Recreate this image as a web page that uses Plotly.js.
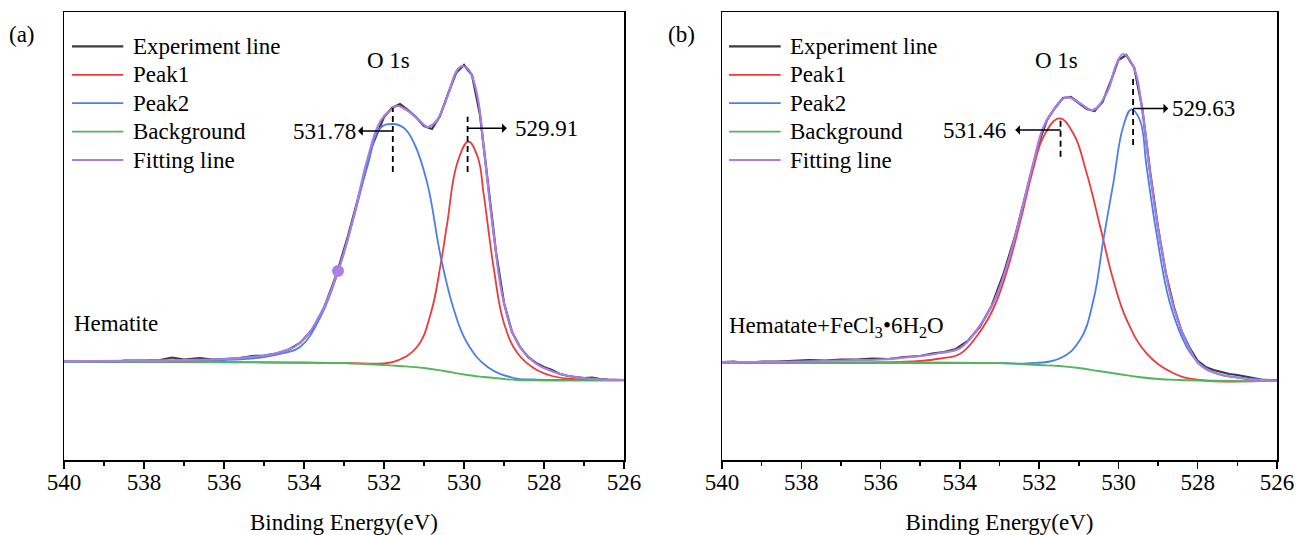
<!DOCTYPE html>
<html>
<head>
<meta charset="utf-8">
<script src="https://cdn.plot.ly/plotly-3.0.1.min.js"></script>
<style>html,body{margin:0;padding:0;background:#fff;}#chart{width:1296px;height:535px;}</style>
</head>
<body>
<div id="chart"></div>
<script>
// ---------------- DATA (binding energy in eV, intensity in a.u.) ----------------
const seriesNames = ["Experiment line", "Peak1", "Peak2", "Background", "Fitting line"];
const tickValues = [540, 538, 536, 534, 532, 530, 528, 526];

// Panel (a) Hematite
const expA_E = [540, 539.5, 539, 538.7, 538.5, 538, 537.6, 537.3, 537, 536.6, 536.3, 536, 535.6, 535.3, 535, 534.7, 534.4, 534.1, 533.8, 533.5, 533.2, 532.9, 532.6, 532.3, 532.0, 531.8, 531.6, 531.4, 531.2, 531.0, 530.8, 530.6, 530.4, 530.2, 530.0, 529.8, 529.6, 529.4, 529.2, 529.0, 528.8, 528.6, 528.4, 528.2, 528.0, 527.8, 527.6, 527.4, 527.2, 527.0, 526.8, 526.6, 526.4, 526.2, 526.0];
const expA_I = [99, 99, 98.5, 98, 99.5, 99.5, 100, 102.5, 100.5, 102, 100.5, 101, 102, 104, 104.5, 106.5, 110, 117, 130, 152, 184, 224, 268, 314, 343, 352, 356, 350, 343, 334, 331, 344, 366, 387, 395, 385, 345, 277, 208, 157, 128, 113, 103, 97, 93, 90, 86, 84, 83, 82, 82.5, 81, 80.5, 80, 80];

const fitA_E = [540, 539, 538, 537, 536, 535.5, 535, 534.5, 534.1, 533.6, 533.15, 532.76, 532.42, 532.09, 531.82, 531.67, 531.5, 531.33, 531.1, 530.92, 530.8, 530.67, 530.42, 530.17, 530.04, 529.9, 529.83, 529.66, 529.5, 529.25, 529.0, 528.66, 528.25, 528.0, 527.5, 527.0, 526.5, 526.0];
const fitA_I = [99, 99, 99.5, 100, 101, 102.5, 104.5, 109, 117, 145, 189, 243, 300, 339, 350.5, 354, 351.5, 347, 339, 333, 335, 340, 363, 390, 394, 391, 387, 363, 310, 223, 157, 117, 98, 92, 85, 82, 80.5, 80];

const peak1A_E = [540, 537, 535, 533, 532.0, 531.67, 531.17, 530.83, 530.58, 530.42, 530.17, 529.89, 529.66, 529.5, 529.25, 529.0, 528.66, 528.25, 527.8, 527.3, 526.5, 526.0];
const peak1A_I = [98.5, 98, 97.5, 97, 96.7, 99.3, 113.3, 146.7, 196.7, 236.7, 296.7, 318.3, 303.3, 263.3, 190, 136.7, 106.7, 91.7, 84, 81, 80, 80];

const peak2A_E = [540, 537, 536, 535.5, 535, 534.5, 534.09, 533.59, 533.15, 532.76, 532.42, 532.09, 531.78, 531.5, 531.25, 530.92, 530.58, 530.25, 529.92, 529.41, 528.75, 528.3, 527.5, 526.0];
const peak2A_I = [98.5, 99, 100, 101, 103, 107, 113.3, 143, 188, 242, 293, 332, 336, 332, 317, 277, 203, 150, 117, 93, 82, 80.5, 80, 80];

const bgA_E = [540, 536, 534, 533, 532.5, 532, 531.6, 531, 530.5, 529.92, 529.5, 529, 528.66, 528, 526];
const bgA_I = [98.5, 98, 97.5, 97, 96, 95, 94, 92, 89, 85, 83, 81, 80, 79.5, 79.5];

const markA_E = [533.15];
const markA_I = [189];

// Panel (b) Hematate + FeCl3·6H2O
const expB_E = [540, 539.7, 539.4, 539, 538.6, 538.2, 537.8, 537.4, 537, 536.6, 536.2, 535.8, 535.4, 535, 534.7, 534.4, 534.1, 533.8, 533.5, 533.2, 532.9, 532.6, 532.3, 532.0, 531.8, 531.6, 531.4, 531.2, 531.0, 530.8, 530.6, 530.4, 530.2, 530.0, 529.8, 529.6, 529.4, 529.2, 529.0, 528.8, 528.6, 528.4, 528.2, 528.0, 527.8, 527.6, 527.4, 527.2, 527.0, 526.8, 526.6, 526.4, 526.2, 526.0];
const expB_I = [98, 98.5, 97, 98.5, 98.5, 99.5, 100, 99.5, 100.5, 100.5, 101.5, 101, 103, 104, 106.5, 108, 111, 119, 133, 154, 186, 225, 273, 318, 340, 352, 362, 363, 357, 351, 349, 358, 378, 400, 405, 392, 352, 288, 232, 186, 153, 128, 112, 99, 93, 90, 88, 86, 85, 83.5, 82, 80.5, 80, 80];

const fitB_E = [540, 539, 538, 537, 536, 535.5, 535, 534.5, 534.0, 533.57, 533.16, 532.82, 532.48, 532.15, 531.89, 531.64, 531.32, 530.97, 530.65, 530.3, 530.04, 529.88, 529.62, 529.41, 529.2, 528.95, 528.61, 528.19, 527.94, 527.52, 526.68, 526.0];
const fitB_I = [98, 98, 98.5, 99.5, 100.5, 102, 104, 107, 111.7, 130, 156.7, 193.3, 243.3, 296.7, 333.3, 350, 362.7, 356.7, 350, 366.7, 396.7, 406, 393.3, 353.3, 286.7, 220, 153.3, 110, 95, 86.7, 80.7, 79.5];

const peak1B_E = [540, 536, 535, 534.5, 534.0, 533.57, 533.16, 532.82, 532.48, 532.15, 531.89, 531.49, 531.14, 530.8, 530.46, 530.13, 529.79, 529.29, 528.61, 527.94, 526.0];
const peak1B_I = [97.5, 97.5, 99, 101.5, 106, 124, 151, 188, 238, 291, 323.3, 341.7, 326.7, 286.7, 233.3, 180, 140, 106.7, 86.7, 80, 79.5];

const peak2B_E = [540, 533, 532.31, 531.47, 530.97, 530.63, 530.38, 530.13, 529.88, 529.67, 529.46, 529.29, 529.04, 528.7, 528.28, 527.94, 527.5, 527.0, 526.5, 526.0];
const peak2B_I = [97.5, 97, 96.7, 101.7, 120, 160, 220, 276.7, 333.3, 350.7, 340, 293.3, 226.7, 156.7, 113.3, 96, 86, 82.5, 80.5, 79.5];

const bgB_E = [540, 535, 533, 532.5, 532, 531.5, 531, 530.5, 530, 529.5, 529, 528.5, 528, 526];
const bgB_I = [97.5, 97.5, 97, 96, 95, 94, 92, 89, 86, 83, 81, 80, 79.5, 79];

// peak labels
const peakLabelsA = [531.78, 529.91];
const peakLabelsB = [531.46, 529.63];

// ---------------- STYLE ----------------
const FONT = "Liberation Serif";
const FS = 23;
const colors = ["#3a3a3a", "#ee3a3a", "#4a80e8", "#55b55e", "#a97de8"];
const widths = [2.2, 1.8, 1.8, 1.8, 2.2];

// plot area in px
const L = 64, R = 1277, T = 12, B = 460;
const px = v => (v - L) / (R - L);
const py = v => (B - v) / (B - T);

function series(xs, ys, i, xa, ya, shape) {
  return {
    x: xs, y: ys, type: "scatter", mode: "lines", name: seriesNames[i],
    xaxis: xa, yaxis: ya, showlegend: false, hoverinfo: "skip",
    line: {color: colors[i], width: widths[i], shape: shape || "spline", smoothing: 1.2}
  };
}

const data = [
  series(expA_E, expA_I, 0, "x", "y", "linear"),
  series(peak1A_E, peak1A_I, 1, "x", "y"),
  series(peak2A_E, peak2A_I, 2, "x", "y"),
  series(bgA_E, bgA_I, 3, "x", "y"),
  series(fitA_E, fitA_I, 4, "x", "y"),
  {x: markA_E, y: markA_I, type: "scatter", mode: "markers", xaxis: "x", yaxis: "y",
   showlegend: false, marker: {color: "#b07ee8", size: 12}},
  series(expB_E, expB_I, 0, "x2", "y2", "linear"),
  series(peak1B_E, peak1B_I, 1, "x2", "y2"),
  series(peak2B_E, peak2B_I, 2, "x2", "y2"),
  series(bgB_E, bgB_I, 3, "x2", "y2"),
  series(fitB_E, fitB_I, 4, "x2", "y2")
];

function xAxis(domain, anchor) {
  return {
    domain: domain, anchor: anchor, range: [540, 526], tickvals: tickValues,
    ticks: "outside", ticklen: 7, tickwidth: 1.5, tickcolor: "#000",
    ticklabelstandoff: -6,
    minor: {dtick: 1, ticks: "outside", ticklen: 4, tickwidth: 1.5, tickcolor: "#000"},
    showline: true, linecolor: "#000", linewidth: 1.5, mirror: true,
    showgrid: false, zeroline: false,
    tickfont: {family: FONT, size: FS, color: "#000"},
    title: {text: "Binding Energy(eV)", font: {family: FONT, size: FS, color: "#000"}, standoff: 20}
  };
}
function yAxis(anchor) {
  return {
    anchor: anchor, range: [0, 448], showticklabels: false, ticks: "",
    showline: true, linecolor: "#000", linewidth: 1.5, mirror: true,
    showgrid: false, zeroline: false
  };
}

const shapes = [];
const annotations = [];

// manual legends
const legendRowsPx = [46.3, 74.8, 103.2, 131.6, 160];
[[72, 123.3, 130.7], [729, 780.7, 787.7]].forEach(([x0, x1, xt]) => {
  seriesNames.forEach((nm, i) => {
    shapes.push({type: "line", xref: "paper", yref: "paper", x0: px(x0), x1: px(x1),
      y0: py(legendRowsPx[i]), y1: py(legendRowsPx[i]), line: {color: colors[i], width: widths[i]}});
    annotations.push({xref: "paper", yref: "paper", x: px(xt), y: py(legendRowsPx[i]),
      xanchor: "left", yanchor: "middle", text: nm, showarrow: false,
      font: {family: FONT, size: FS, color: "#000"}});
  });
});

function txt(xref, yref, x, y, text, xanchor) {
  annotations.push({xref: xref, yref: yref, x: x, y: y, text: text, showarrow: false,
    xanchor: xanchor || "center", yanchor: "middle", font: {family: FONT, size: FS, color: "#000"}});
}
// label with arrow: text centred at textX, arrow from dashed line (peak) pointing to the text
function arrowLabel(xa, ya, peak, textX, y, gap) {
  annotations.push({xref: xa, yref: ya, axref: xa, ayref: ya, x: peak, y: y, ax: textX, ay: y,
    text: peak.toFixed(2), font: {family: FONT, size: FS, color: "#000"},
    showarrow: true, arrowside: "start", arrowhead: 2, arrowsize: 2, arrowwidth: 1.6,
    arrowcolor: "#000", standoff: 0, startstandoff: gap || 0});
}
function vdash(xa, ya, x, y0, y1) {
  shapes.push({type: "line", xref: xa, yref: ya, x0: x, x1: x, y0: y0, y1: y1,
    line: {color: "#000", width: 1.8, dash: "6px,4px"}});
}

// panel labels
txt("paper", "paper", px(22), py(34), "(a)");
txt("paper", "paper", px(681), py(34), "(b)");

// panel (a) annotations
txt("x", "y", 531.89, 400, "O 1s");
txt("x", "y", 539.8, 137, "Hematite", "left");
vdash("x", "y", peakLabelsA[0], 288, 352);
vdash("x", "y", peakLabelsA[1], 288, 343.3);
arrowLabel("x", "y", peakLabelsA[0], 533.50, 329, 1);
arrowLabel("x", "y", peakLabelsA[1], 527.93, 331.7, 7);

// panel (b) annotations
txt("x2", "y2", 531.55, 400, "O 1s");
txt("x2", "y2", 539.87, 133, "Hematate+FeCl<sub>3</sub>•6H<sub>2</sub>O", "left");
vdash("x2", "y2", peakLabelsB[0], 303.3, 340.7);
vdash("x2", "y2", peakLabelsB[1], 315, 385);
arrowLabel("x2", "y2", peakLabelsB[0], 533.64, 330, 8);
arrowLabel("x2", "y2", peakLabelsB[1], 527.86, 351.5, 2);

const layout = {
  width: 1296, height: 535,
  margin: {l: L, r: 1296 - R, t: T, b: 535 - B},
  paper_bgcolor: "#fff", plot_bgcolor: "#fff",
  showlegend: false,
  font: {family: FONT, size: FS, color: "#000"},
  xaxis: xAxis([0, px(624)], "y"),
  yaxis: yAxis("x"),
  xaxis2: xAxis([px(722), 1], "y2"),
  yaxis2: yAxis("x2"),
  shapes: shapes,
  annotations: annotations
};

Plotly.newPlot("chart", data, layout, {staticPlot: true});
</script>
</body>
</html>
